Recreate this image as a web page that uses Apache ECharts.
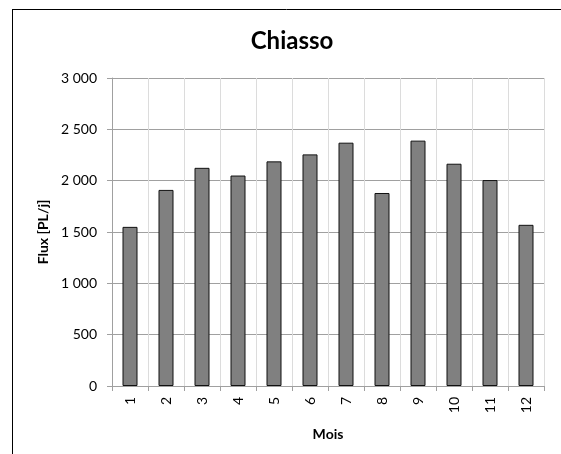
<!DOCTYPE html>
<html>
<head>
<meta charset="utf-8">
<script src="https://cdn.jsdelivr.net/npm/echarts@6/dist/echarts.min.js"></script>
<style>
  html, body { margin: 0; padding: 0; background: #fff; }
  #chart { width: 561px; height: 454px; }
</style>
</head>
<body>
<div id="chart"></div>
<script>
// monthly heavy-vehicle flux at Chiasso
const months = ["1", "2", "3", "4", "5", "6", "7", "8", "9", "10", "11", "12"];
const flux = [1550, 1910, 2125, 2050, 2188, 2256, 2370, 1880, 2390, 2165, 2006, 1570];
const yTicks = { min: 0, max: 3000, step: 500 };

const font = "Lato, 'Open Sans', sans-serif";

const chart = echarts.init(document.getElementById("chart"), null, { renderer: "canvas" });

const thousands = (v) => String(v).replace(/\B(?=(\d{3})+(?!\d))/g, " ");

chart.setOption({
  animation: false,
  backgroundColor: "#fff",
  title: {
    text: "Chiasso",
    left: 287,
    top: 24,
    textAlign: "center",
    textStyle: { fontFamily: font, fontSize: 24, fontWeight: "bold", color: "#000" },
  },
  graphic: [
    { type: "line", shape: { x1: 12, y1: 9.5, x2: 561, y2: 9.5 }, style: { stroke: "#000", lineWidth: 1 } },
    { type: "line", shape: { x1: 12.5, y1: 9, x2: 12.5, y2: 454 }, style: { stroke: "#000", lineWidth: 1 } },
  ],
  grid: { left: 112, right: 17, top: 78, bottom: 68 },
  xAxis: {
    type: "category",
    data: months,
    name: "Mois",
    nameLocation: "middle",
    nameGap: 41,
    nameTextStyle: { fontFamily: font, fontSize: 14, fontWeight: "bold", color: "#000" },
    axisLine: { lineStyle: { color: "#a0a0a0", width: 1 } },
    axisTick: { show: true, length: 5, lineStyle: { color: "#a0a0a0" } },
    axisLabel: { rotate: 90, margin: 11, fontFamily: font, fontSize: 14, color: "#000" },
    splitLine: { show: true, interval: 0, lineStyle: { color: "#dcdcdc", width: 1 } },
  },
  yAxis: {
    type: "value",
    min: yTicks.min,
    max: yTicks.max,
    interval: yTicks.step,
    name: "Flux [PL/j]",
    nameLocation: "middle",
    nameGap: 60,
    nameTextStyle: { fontFamily: font, fontSize: 14, fontWeight: "bold", color: "#000" },
    axisLine: { show: true, lineStyle: { color: "#a0a0a0", width: 1 } },
    axisTick: { show: true, length: 5, lineStyle: { color: "#a0a0a0" } },
    axisLabel: { margin: 15, fontFamily: font, fontSize: 14, color: "#000", formatter: thousands },
    splitLine: { show: true, lineStyle: { color: "#a0a0a0", width: 1 } },
  },
  series: [
    {
      type: "bar",
      data: flux,
      barWidth: 15,
      itemStyle: { color: "#808080", borderColor: "#111", borderWidth: 1 },
    },
  ],
});
</script>
</body>
</html>
